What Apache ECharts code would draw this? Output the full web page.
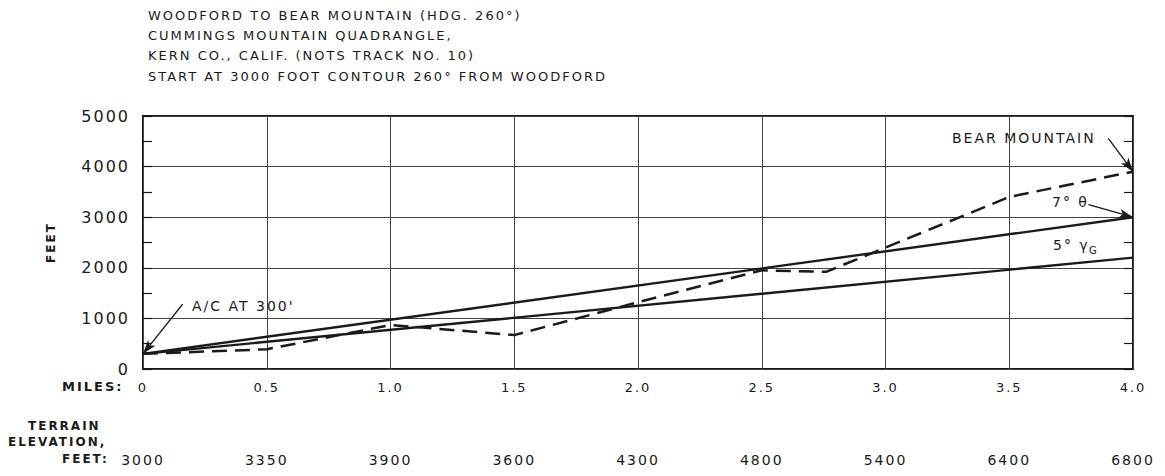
<!DOCTYPE html>
<html>
<head>
<meta charset="utf-8">
<script src="https://cdn.jsdelivr.net/npm/echarts@6/dist/echarts.min.js"></script>
<style>
  html, body { margin: 0; padding: 0; background: #ffffff; }
  #chart { width: 1165px; height: 476px; }
  /* hand-lettered look: widely spaced capitals */
  #chart svg text { letter-spacing: 2px; }
</style>
</head>
<body>
<div id="chart"></div>
<script>
// Heading lines above the profile
const headingLines = [
  'WOODFORD TO BEAR MOUNTAIN (HDG. 260°)',
  'CUMMINGS MOUNTAIN QUADRANGLE,',
  'KERN CO., CALIF. (NOTS TRACK NO. 10)',
  'START AT 3000 FOOT CONTOUR 260° FROM WOODFORD'
];

// Terrain elevation (feet) printed under each half-mile station
const terrainElevation = [3000, 3350, 3900, 3600, 4300, 4800, 5400, 6400, 6800];

// Terrain profile relative to the start contour (dashed)
const profileMiles = [0, 0.5, 1.0, 1.5, 2.0, 2.5, 2.76, 3.0, 3.5, 4.0];
const profileFeet  = [300, 390, 870, 670, 1320, 1950, 1920, 2400, 3400, 3900];

// Climb lines from the aircraft start height
const climbMiles = [0, 4.0];
const theta7Feet = [300, 3000];
const gamma5Feet = [300, 2200];

const pairs = (xs, ys) => xs.map((x, i) => [x, ys[i]]);

const FONT = 'DejaVu Sans';
const INK = '#1a1a1a';

const chart = echarts.init(document.getElementById('chart'), null, { renderer: 'svg' });

chart.setOption({
  backgroundColor: '#ffffff',
  animation: false,
  title: {
    text: headingLines.join('\n'),
    left: 143,
    top: 0,
    textStyle: { fontFamily: FONT, fontSize: 13, fontWeight: 'normal', color: INK, lineHeight: 20.3 }
  },
  grid: {
    left: 143, right: 32, top: 116, bottom: 107,
    show: true, borderColor: INK, borderWidth: 2, backgroundColor: 'transparent'
  },
  xAxis: [
    {
      type: 'value', min: 0, max: 4, interval: 0.5,
      axisLine: { show: false },
      axisTick: { show: false },
      splitLine: { show: true, lineStyle: { color: '#444', width: 1 } },
      axisLabel: {
        margin: 12, fontFamily: FONT, fontSize: 13, color: INK,
        formatter: v => (v === 0 ? '0' : v.toFixed(1))
      }
    },
    {
      type: 'value', min: 0, max: 4, interval: 0.5, position: 'bottom', offset: 72,
      axisLine: { show: false }, axisTick: { show: false }, splitLine: { show: false },
      axisLabel: {
        margin: 12, fontFamily: FONT, fontSize: 14, color: INK,
        formatter: v => String(terrainElevation[Math.round(v / 0.5)])
      }
    }
  ],
  yAxis: [
    {
      type: 'value', min: 0, max: 5000, interval: 1000,
      name: 'FEET', nameLocation: 'middle', nameGap: 86, nameRotate: 90,
      nameTextStyle: { fontFamily: FONT, fontSize: 12, fontWeight: 'bold', color: INK },
      axisLine: { show: false }, axisTick: { show: false },
      splitLine: { show: true, lineStyle: { color: '#444', width: 1 } },
      axisLabel: { margin: 13, fontFamily: FONT, fontSize: 16, color: INK, formatter: v => String(v) }
    },
    {
      type: 'value', min: 0, max: 5000, interval: 500, position: 'left',
      axisLine: { show: false }, splitLine: { show: false }, axisLabel: { show: false },
      axisTick: { show: true, inside: true, length: 9, lineStyle: { color: INK, width: 1.2 } }
    },
    {
      type: 'value', min: 0, max: 5000, interval: 500, position: 'right',
      axisLine: { show: false }, splitLine: { show: false }, axisLabel: { show: false },
      axisTick: { show: true, inside: true, length: 9, lineStyle: { color: INK, width: 1.2 } }
    }
  ],
  series: [
    {
      name: '7° θ', type: 'line', data: pairs(climbMiles, theta7Feet),
      symbol: 'none', lineStyle: { color: INK, width: 2.4 },
      markLine: {
        silent: true, symbol: ['none', 'arrow'], symbolSize: [7, 14],
        lineStyle: { color: INK, width: 1.3, type: 'solid' },
        label: { show: false },
        data: [
          [{ coord: [3.82, 3250] }, { coord: [4.0, 3000] }],
          [{ coord: [3.9, 4560] }, { coord: [4.0, 3900] }],
          [{ coord: [0.16, 1280] }, { coord: [0.0, 300] }]
        ]
      }
    },
    {
      name: '5° γG', type: 'line', data: pairs(climbMiles, gamma5Feet),
      symbol: 'none', lineStyle: { color: INK, width: 2.4 }
    },
    {
      name: 'TERRAIN', type: 'line', data: pairs(profileMiles, profileFeet),
      symbol: 'none', lineStyle: { color: INK, width: 2.5, type: [15, 8] }
    }
  ],
  graphic: [
    { type: 'text', left: 62, top: 380, style: { text: 'MILES:', font: 'bold 13px "DejaVu Sans"', fill: INK } },
    { type: 'text', left: 28, top: 420, style: { text: 'TERRAIN', font: 'bold 12px "DejaVu Sans"', fill: INK } },
    { type: 'text', left: 8, top: 436, style: { text: 'ELEVATION,', font: 'bold 12px "DejaVu Sans"', fill: INK } },
    { type: 'text', left: 62, top: 453, style: { text: 'FEET:', font: 'bold 12px "DejaVu Sans"', fill: INK } },
    { type: 'text', left: 192, top: 299, style: { text: "A/C AT 300'", font: '14px "DejaVu Sans"', fill: INK } },
    { type: 'text', left: 952, top: 131, style: { text: 'BEAR MOUNTAIN', font: '14px "DejaVu Sans"', fill: INK } },
    { type: 'text', left: 1052, top: 195, style: { text: '7° θ', font: '14px "DejaVu Sans"', fill: INK } },
    { type: 'text', left: 1053, top: 238, style: { text: '5° γ', font: '14px "DejaVu Sans"', fill: INK } },
    { type: 'text', left: 1089, top: 245, style: { text: 'G', font: '10px "DejaVu Sans"', fill: INK } }
  ]
});
</script>
</body>
</html>
